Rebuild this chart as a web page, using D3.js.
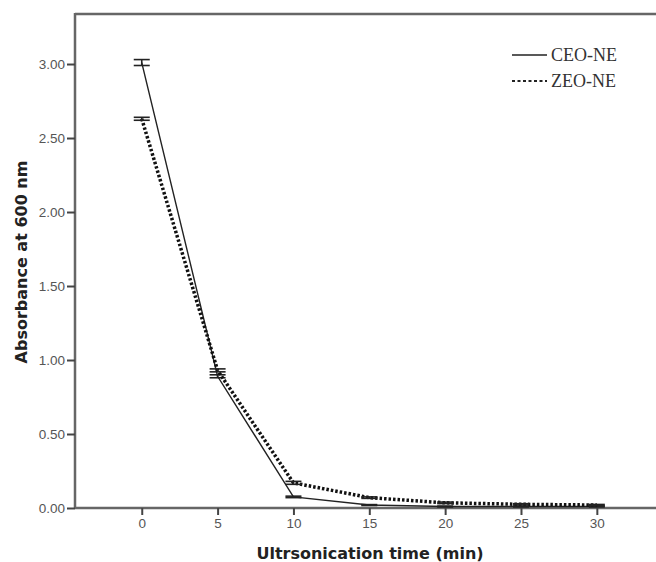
<!DOCTYPE html>
<html><head><meta charset="utf-8">
<script src="https://cdn.jsdelivr.net/npm/d3@7"></script>
<style>body{margin:0;background:#fff;}svg{display:block;}</style>
</head><body>
<svg id="chart" width="656" height="562"></svg>
<script>
const times = [0, 5, 10, 15, 20, 25, 30];
const ceoMean = [3.01, 0.89, 0.075, 0.02, 0.01, 0.01, 0.01];
const ceoErr  = [0.02, 0.01, 0.005, 0.003, 0.003, 0.003, 0.003];
const zeoMean = [2.63, 0.93, 0.17, 0.07, 0.035, 0.025, 0.02];
const zeoErr  = [0.01, 0.01, 0.01, 0.005, 0.005, 0.004, 0.004];
const yTicks = [0, 0.5, 1.0, 1.5, 2.0, 2.5, 3.0];
const xTicks = [0, 5, 10, 15, 20, 25, 30];
const seriesNames = ["CEO-NE", "ZEO-NE"];

(function(){
const svg = d3.select("#chart");
const mL = 75, mT = 14, mR = 656, mB = 508;
const x = d3.scaleLinear().domain([-4.4, 33.9]).range([mL, mR]);
const y = d3.scaleLinear().domain([0, 3.338]).range([mB, mT]);

const axisColor = "#666";
svg.append("line").attr("x1", mL).attr("x2", mR).attr("y1", mT).attr("y2", mT)
  .attr("stroke", axisColor).attr("stroke-width", 2.5);

const yAxis = svg.append("g").attr("transform", `translate(${mL},0)`)
  .call(d3.axisLeft(y).tickValues(yTicks).tickFormat(d3.format(".2f")).tickSize(8).tickPadding(2).tickSizeOuter(0));
const xAxis = svg.append("g").attr("transform", `translate(0,${mB})`)
  .call(d3.axisBottom(x).tickValues(xTicks).tickFormat(d3.format("d")).tickSize(7).tickPadding(3).tickSizeOuter(0));
[yAxis, xAxis].forEach(g => {
  g.select(".domain").attr("stroke", axisColor).attr("stroke-width", 2.5);
  g.selectAll(".tick line").attr("stroke", "#444").attr("stroke-width", 2);
  g.selectAll(".tick text").attr("fill", "#555").attr("font-family", "Arial, 'Liberation Sans', sans-serif").attr("font-size", 13.5);
});
yAxis.select(".domain").attr("d", `M0,${mT - 1}V${mB}`);
xAxis.select(".domain").attr("d", `M${mL},0H${mR}`);

const line = d3.line().x((d, i) => x(times[i])).y(d => y(d));

function drawErr(means, errs, color, w) {
  const g = svg.append("g");
  means.forEach((m, i) => {
    const cx = x(times[i]);
    [m + errs[i], m - errs[i]].forEach(v => {
      g.append("line").attr("x1", cx - 8).attr("x2", cx + 8).attr("y1", y(v)).attr("y2", y(v))
        .attr("stroke", color).attr("stroke-width", w);
    });
    g.append("line").attr("x1", cx).attr("x2", cx).attr("y1", y(m + errs[i])).attr("y2", y(m - errs[i]))
      .attr("stroke", color).attr("stroke-width", w);
  });
}

svg.append("path").datum(ceoMean).attr("d", line).attr("fill", "none")
  .attr("stroke", "#222").attr("stroke-width", 1.4);
drawErr(ceoMean, ceoErr, "#222", 1.6);
svg.append("path").datum(zeoMean).attr("d", line).attr("fill", "none")
  .attr("stroke", "#111").attr("stroke-width", 3.5).attr("stroke-dasharray", "2.5,2");
drawErr(zeoMean, zeoErr, "#222", 1.6);

svg.append("text").attr("x", 370).attr("y", 559).attr("text-anchor", "middle")
  .attr("font-family", "'DejaVu Sans', Verdana, sans-serif").attr("font-weight", "bold")
  .attr("font-size", 16).attr("fill", "#222").text("Ultrsonication time (min)");
svg.append("text").attr("transform", "translate(27,262) rotate(-90)").attr("text-anchor", "middle")
  .attr("font-family", "'DejaVu Sans', Verdana, sans-serif").attr("font-weight", "bold")
  .attr("font-size", 16).attr("fill", "#222").text("Absorbance at 600 nm");

const leg = svg.append("g");
seriesNames.forEach((n, i) => {
  const ly = 55 + i * 26;
  leg.append("line").attr("x1", 512).attr("x2", 547).attr("y1", ly).attr("y2", ly)
    .attr("stroke", "#222").attr("stroke-width", i === 0 ? 1.5 : 2.2)
    .attr("stroke-dasharray", i === 0 ? null : "3,2.5");
  leg.append("text").attr("x", 551).attr("y", ly + 6).attr("font-family", "'Liberation Serif', 'Times New Roman', serif")
    .attr("font-size", 18).attr("fill", "#333").text(n);
});
})();
</script>
</body></html>
